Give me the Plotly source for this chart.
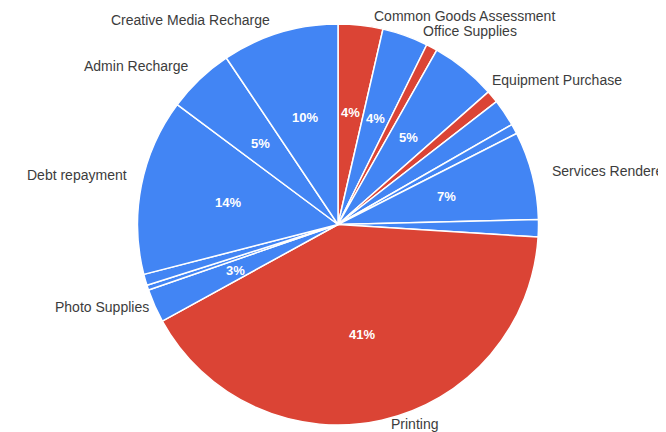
import math
import plotly.graph_objects as go

# ---- data (clockwise from 12 o'clock) ----
categories = [
    "Common Goods Assessment", "Other A", "Office Supplies", "Other B",
    "Equipment Purchase", "Other C", "Other D", "Services Rendered",
    "Other E", "Printing", "Photo Supplies", "Other F", "Other G",
    "Debt repayment", "Admin Recharge", "Creative Media Recharge",
]
values = [3.6, 3.7, 0.9, 5.3, 1.0, 2.2, 0.8, 7.1, 1.4, 41.0, 2.7, 0.4, 0.9, 14.2, 5.4, 9.4]
pct_labels = ["4%", "4%", "", "5%", "", "", "", "7%", "", "41%", "3%", "", "", "14%", "5%", "10%"]
shown_names = ["Common Goods Assessment", "", "Office Supplies", "", "Equipment Purchase",
               "", "", "Services Rendered", "", "Printing", "Photo Supplies", "", "",
               "Debt repayment", "Admin Recharge", "Creative Media Recharge"]
highlight = [True, False, True, False, True, False, False, False, False, True,
             False, False, False, False, False, False]

# ---- styles / layout ----
OFF = 8                      # page body margin
W, H = 666 - OFF, 432 - OFF  # figure size so it fits the window
BLUE, RED = "#4285F4", "#DB4435"
CX, CY, R = 338, 224.5, 200.5   # page pixel coordinates
colors = [RED if h else BLUE for h in highlight]


def px2paper(x, y):
    return (x - OFF) / W, 1 - (y - OFF) / H


# outside label placement (page pixels): (x, y, xanchor)
label_pos = {
    "Common Goods Assessment": (464, 15.5, "center"),
    "Office Supplies": (470, 31, "center"),
    "Equipment Purchase": (557, 80, "center"),
    "Services Rendered": (550, 171, "left"),
    "Printing": (414, 424, "center"),
    "Photo Supplies": (102, 307, "center"),
    "Debt repayment": (25, 175, "left"),
    "Admin Recharge": (136, 66, "center"),
    "Creative Media Recharge": (190, 20, "center"),
}

x0, y1 = px2paper(CX - R, CY - R)
x1, y0 = px2paper(CX + R, CY + R)

fig = go.Figure(go.Pie(
    labels=categories,
    values=values,
    sort=False,
    direction="clockwise",
    rotation=0,
    textinfo="none",
    marker=dict(colors=colors, line=dict(color="white", width=1.5)),
    showlegend=False,
    domain=dict(x=[x0, x1], y=[y0, y1]),
))

annotations = []
total = sum(values)
cum = 0.0
for v, t in zip(values, pct_labels):
    mid = (cum + v / 2) / total * 2 * math.pi
    cum += v
    if not t:
        continue
    ax, ay = px2paper(CX + 0.56 * R * math.sin(mid), CY - 0.56 * R * math.cos(mid))
    annotations.append(dict(
        x=ax, y=ay, xref="paper", yref="paper", text=t, showarrow=False,
        font=dict(family="Arial, Liberation Sans", size=13, color="white", weight="bold"),
        xanchor="center", yanchor="middle"))

for name in shown_names:
    if not name:
        continue
    x, y, xa = label_pos[name]
    ax, ay = px2paper(x, y)
    annotations.append(dict(
        x=ax, y=ay, xref="paper", yref="paper", text=name, showarrow=False,
        font=dict(family="Arial, Liberation Sans", size=14, color="#3c3c3c"),
        xanchor=xa, yanchor="middle"))

fig.update_layout(
    width=W, height=H,
    margin=dict(l=0, r=0, t=0, b=0),
    paper_bgcolor="white", plot_bgcolor="white",
    annotations=annotations,
)

fig.write_html("out.html")
